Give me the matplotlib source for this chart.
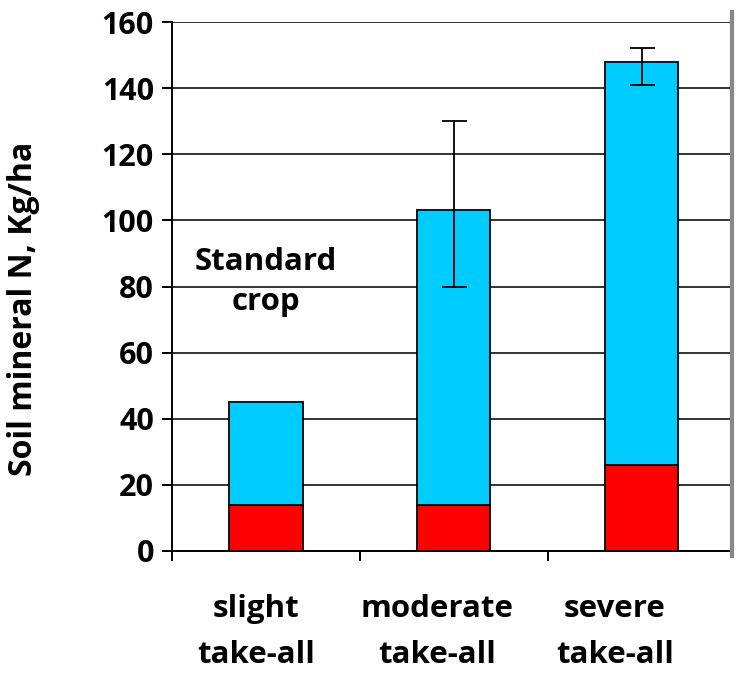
import matplotlib
matplotlib.use("Agg")
import matplotlib.pyplot as plt
import matplotlib.transforms as mtransforms
import numpy as np
from matplotlib.lines import Line2D

categories = ["slight\ntake-all", "moderate\ntake-all", "severe\ntake-all"]
red_values = [14, 14, 26]
total_values = [45, 103, 148]
err_low = [None, 80, 141]
err_high = [None, 130, 152]
yticks = [0, 20, 40, 60, 80, 100, 120, 140, 160]

plt.rcParams['font.family'] = ['Open Sans', 'DejaVu Sans']

fig = plt.figure(figsize=(7.37, 6.73), dpi=100)
ax = fig.add_axes([172/737, 1-551/673, (730-172)/737, (551-22)/673])

x = np.arange(len(categories))
cyan_values = [t - r for t, r in zip(total_values, red_values)]
w = 0.39
ax.bar(x, red_values, width=w, color='#FF0000', edgecolor='black', linewidth=1.3, zorder=3)
ax.bar(x, cyan_values, width=w, bottom=red_values, color='#00CCFF', edgecolor='black', linewidth=1.3, zorder=3)

for i in range(len(categories)):
    if err_low[i] is not None:
        ax.errorbar(x[i], total_values[i],
                    yerr=[[total_values[i] - err_low[i]], [err_high[i] - total_values[i]]],
                    fmt='none', ecolor='black', elinewidth=1.3, capsize=9, capthick=1.3, zorder=4)

ax.set_xlim(-0.5, 2.47)
ax.set_ylim(0, 160)
ax.set_yticks(yticks)
ax.set_yticklabels([str(v) for v in yticks], fontsize=22, fontweight='bold')
ax.yaxis.grid(True, color='#333333', linewidth=1.4, zorder=0)
ax.set_axisbelow(True)

ax.set_xticks(x)
ax.set_xticklabels(categories, fontsize=22.5, fontweight='bold', linespacing=1.7)
ax.tick_params(axis='x', length=0, pad=31)
ax.set_xticks([-0.5, 0.5, 1.5], minor=True)
ax.tick_params(axis='x', which='minor', length=7, width=1.4, direction='out')
ax.tick_params(axis='y', length=7, width=1.4, direction='out', pad=6)

# shift category labels slightly left, as in the original
label_shifts_px = [-10, -17, -27]
for lbl, dx in zip(ax.get_xticklabels(), label_shifts_px):
    lbl.set_transform(lbl.get_transform() + mtransforms.ScaledTranslation(dx / 100, 0, fig.dpi_scale_trans))

for s in ['top', 'right']:
    ax.spines[s].set_visible(False)
for s in ['left', 'bottom']:
    ax.spines[s].set_color('black')
    ax.spines[s].set_linewidth(1.4)

ax.set_ylabel("Soil mineral N, Kg/ha", fontsize=23, fontweight='bold')
ax.yaxis.set_label_coords(-(172 - 40) / 558, (551 - 309) / 529)

ax.text(0, 87.5, "Standard", ha='center', va='center', fontsize=22.5, fontweight='bold')
ax.text(0, 75.2, "crop", ha='center', va='center', fontsize=22.5, fontweight='bold')

fig.add_artist(Line2D([731.5/737, 731.5/737], [1-12/673, 1-556/673], color='#888888', linewidth=3, transform=fig.transFigure))

fig.savefig("out.png", dpi=100)
